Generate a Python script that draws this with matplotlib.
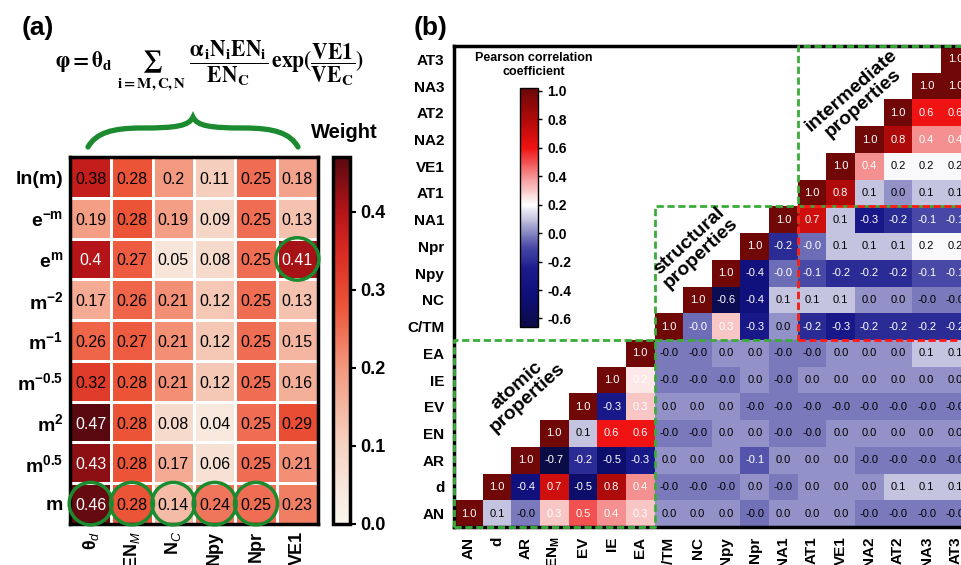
import numpy as np
import matplotlib
matplotlib.use('Agg')
import matplotlib.pyplot as plt
from matplotlib.colors import LinearSegmentedColormap, Normalize
from matplotlib.patches import Ellipse, PathPatch
from matplotlib.path import Path
from matplotlib.cm import ScalarMappable

plt.rcParams.update({
    'font.family': ['Liberation Sans', 'DejaVu Sans'],
    'mathtext.fontset': 'custom',
    'mathtext.rm': 'Liberation Sans',
    'mathtext.bf': 'Liberation Sans:bold',
    'mathtext.it': 'Liberation Sans:italic',
    'mathtext.sf': 'Liberation Sans',
    'mathtext.default': 'bf',
    'axes.unicode_minus': False,
})

# ---------------- data: panel (a) ----------------
W_ROWS = ['ln(m)', r'e$^{-m}$', r'e$^{m}$', r'm$^{-2}$', r'm$^{-1}$',
          r'm$^{-0.5}$', r'm$^{2}$', r'm$^{0.5}$', 'm']
W_COLS = [r'θ$_{\mathit{d}}$', r'EN$_{\mathit{M}}$', r'N$_{\mathit{C}}$', 'Npy', 'Npr', 'VE1']
W_LN = [0.38, 0.28, 0.20, 0.11, 0.25, 0.18]
W_EXP_NEG = [0.19, 0.28, 0.19, 0.09, 0.25, 0.13]
W_EXP = [0.40, 0.27, 0.05, 0.08, 0.25, 0.41]
W_M_NEG2 = [0.17, 0.26, 0.21, 0.12, 0.25, 0.13]
W_M_NEG1 = [0.26, 0.27, 0.21, 0.12, 0.25, 0.15]
W_M_NEG05 = [0.32, 0.28, 0.21, 0.12, 0.25, 0.16]
W_M2 = [0.47, 0.28, 0.08, 0.04, 0.25, 0.29]
W_M05 = [0.43, 0.28, 0.17, 0.06, 0.25, 0.21]
W_M = [0.46, 0.28, 0.14, 0.24, 0.25, 0.23]
W_CIRCLED = [(2, 5), (8, 0), (8, 1), (8, 2), (8, 3), (8, 4)]

# ---------------- data: panel (b) ----------------
P_ROWS = ['AN', 'd', 'AR', 'EN', 'EV', 'IE', 'EA', 'C/TM', 'NC', 'Npy', 'Npr',
          'NA1', 'AT1', 'VE1', 'NA2', 'AT2', 'NA3', 'AT3']
P_COLS = ['AN', 'd', 'AR', r'EN$_{M}$', 'EV', 'IE', 'EA', 'C/TM', 'NC', 'Npy', 'Npr',
          'NA1', 'AT1', 'VE1', 'NA2', 'AT2', 'NA3', 'AT3']
# each row starts at the diagonal
C_AN = [1.0, 0.1, -0.02, 0.3, 0.5, 0.4, 0.3, 0.02, 0.02, 0.02, -0.03, 0.02, 0.02, 0.02, -0.02, -0.02, -0.02, -0.02]
C_D = [1.0, -0.4, 0.7, -0.5, 0.8, 0.4, -0.02, -0.02, -0.02, 0.02, -0.02, 0.02, 0.02, 0.02, 0.1, 0.1, 0.1]
C_AR = [1.0, -0.7, -0.2, -0.5, -0.3, 0.02, 0.02, 0.02, -0.08, 0.02, 0.02, 0.02, -0.02, -0.02, -0.02, -0.02]
C_EN = [1.0, 0.1, 0.6, 0.6, -0.02, -0.02, 0.02, 0.02, -0.02, -0.02, 0.02, 0.02, 0.02, 0.02, 0.02]
C_EV = [1.0, -0.3, 0.3, 0.02, 0.02, 0.02, -0.02, -0.02, -0.02, -0.02, -0.02, -0.02, -0.02, -0.02]
C_IE = [1.0, 0.24, -0.02, -0.02, -0.02, 0.02, -0.02, 0.02, 0.02, 0.02, 0.02, 0.02, 0.02]
C_EA = [1.0, -0.02, -0.02, 0.02, 0.02, -0.02, -0.02, 0.02, 0.02, 0.02, 0.1, 0.1]
C_CTM = [1.0, -0.04, 0.3, -0.3, 0.02, -0.2, -0.3, -0.2, -0.2, -0.2, -0.2]
C_NC = [1.0, -0.6, -0.4, 0.1, 0.1, 0.1, 0.02, 0.02, -0.02, -0.02]
C_NPY = [1.0, -0.4, -0.04, -0.1, -0.2, -0.2, -0.2, -0.1, -0.1]
C_NPR = [1.0, -0.2, -0.04, 0.1, 0.1, 0.1, 0.19, 0.19]
C_NA1 = [1.0, 0.7, 0.1, -0.3, -0.2, -0.1, -0.1]
C_AT1 = [1.0, 0.8, 0.1, 0.02, 0.1, 0.1]
C_VE1 = [1.0, 0.4, 0.19, 0.19, 0.19]
C_NA2 = [1.0, 0.8, 0.4, 0.4]
C_AT2 = [1.0, 0.6, 0.6]
C_NA3 = [1.0, 1.0]
C_AT3 = [1.0]
CB_TICKS = [-0.6, -0.4, -0.2, 0.0, 0.2, 0.4, 0.6, 0.8, 1.0]
W_TICKS = [0.0, 0.1, 0.2, 0.3, 0.4]

W = [W_LN, W_EXP_NEG, W_EXP, W_M_NEG2, W_M_NEG1, W_M_NEG05, W_M2, W_M05, W_M]
CORR = [C_AN, C_D, C_AR, C_EN, C_EV, C_IE, C_EA, C_CTM, C_NC, C_NPY, C_NPR,
        C_NA1, C_AT1, C_VE1, C_NA2, C_AT2, C_NA3, C_AT3]

FW, FH = 962, 565
fig = plt.figure(figsize=(FW / 100, FH / 100), dpi=100)


def px_axes(x0, y0, x1, y1):
    return fig.add_axes([x0 / FW, 1 - y1 / FH, (x1 - x0) / FW, (y1 - y0) / FH])


def fxy(x, y):
    return (x / FW, 1 - y / FH)


# ---------------- panel (a) ----------------
wv = np.array(W)
vmax_a = 0.47
a_nodes = [(0.0, '#faf6ef'), (0.1, '#f5d3c3'), (0.2, '#f3987e'), (0.28, '#ec5438'),
           (0.35, '#d82a22'), (0.40, '#b51418'), (0.47, '#5a0810')]
cmap_a = LinearSegmentedColormap.from_list('wa', [(v / vmax_a, c) for v, c in a_nodes])
norm_a = Normalize(0.0, vmax_a)

ax_a = px_axes(70, 157, 318, 524)
nr, nc = wv.shape
ax_a.pcolormesh(np.arange(nc + 1), np.arange(nr + 1), wv, cmap=cmap_a, norm=norm_a,
                edgecolors='white', linewidth=2)
ax_a.set_xlim(0, nc)
ax_a.set_ylim(nr, 0)
for i in range(nr):
    for j in range(nc):
        v = wv[i, j]
        ax_a.text(j + 0.5, i + 0.55, f'{v:g}', ha='center', va='center', fontsize=11.5,
                  color='white' if v >= 0.39 else 'black')
for (i, j) in W_CIRCLED:
    ax_a.add_patch(Ellipse((j + 0.5, i + 0.5), 1.04, 1.04, fill=False, edgecolor='#1c8a2e',
                           linewidth=2.5, clip_on=False, zorder=5))
ax_a.set_yticks(np.arange(nr) + 0.5, W_ROWS, fontsize=14, fontweight='bold')
ax_a.set_xticks(np.arange(nc) + 0.5, W_COLS, fontsize=13, fontweight='bold', rotation=90)
ax_a.tick_params(length=0, pad=5)
for s in ax_a.spines.values():
    s.set_linewidth(2.5)

cax_a = px_axes(333, 157, 350, 524)
cb_a = fig.colorbar(ScalarMappable(norm=norm_a, cmap=cmap_a), cax=cax_a, ticks=W_TICKS)
cb_a.outline.set_linewidth(2.5)
cax_a.tick_params(labelsize=13, length=4, width=1.5)
cax_a.set_yticklabels([f'{t:.1f}' for t in W_TICKS], fontweight='bold')

# formula
fig.text(*fxy(210, 66),
         r'$\varphi = \theta_d\ \sum_{i=M,C,N}\ \dfrac{\alpha_i N_i EN_i}{EN_C}\,exp(\dfrac{VE1}{VE_C})$',
         ha='center', va='center', fontsize=15.5, math_fontfamily='stix')

# curly brace
verts = [fxy(88, 147), fxy(96, 133), fxy(112, 128), fxy(142, 128),
         fxy(176, 128), fxy(189, 126), fxy(193, 117),
         fxy(197, 126), fxy(210, 128), fxy(244, 128),
         fxy(274, 128), fxy(290, 133), fxy(298, 147)]
codes = [Path.MOVETO] + [Path.CURVE4] * 12
fig.patches.append(PathPatch(Path(verts, codes), transform=fig.transFigure, fill=False,
                             edgecolor='#1c8a2e', linewidth=3.8, capstyle='round'))

fig.text(*fxy(344, 132), 'Weight', ha='center', va='center', fontsize=14.5, fontweight='bold')
fig.text(*fxy(38, 28), '(a)', ha='center', va='center', fontsize=19, fontweight='bold')
fig.text(*fxy(431, 28), '(b)', ha='center', va='center', fontsize=19, fontweight='bold')

# ---------------- panel (b) ----------------
n = len(P_ROWS)
M = np.full((n, n), np.nan)
for i, row in enumerate(CORR):
    for k, v in enumerate(row):
        M[i, i + k] = v

vmin_b, vmax_b = -0.66, 1.02
b_nodes = [(-0.66, '#0b0b45'), (-0.45, '#0e0e78'), (-0.25, '#1c1c8e'), (-0.1, '#4848a6'),
           (0.0, '#8686c2'), (0.1, '#c6c6e2'), (0.2, '#ffffff'), (0.4, '#f49090'),
           (0.6, '#f01212'), (0.8, '#b00a0a'), (1.02, '#6a0808')]
cmap_b = LinearSegmentedColormap.from_list(
    'pc', [((v - vmin_b) / (vmax_b - vmin_b), c) for v, c in b_nodes])
norm_b = Normalize(vmin_b, vmax_b)

cw, ch = 28.65, 26.72
bx0, by1 = 454, 527
ax_b = px_axes(bx0, by1 - n * ch, bx0 + n * cw, by1)
ax_b.pcolormesh(np.arange(n + 1), np.arange(n + 1), np.ma.masked_invalid(M),
                cmap=cmap_b, norm=norm_b)
ax_b.set_xlim(0, n)
ax_b.set_ylim(0, n)
for i in range(n):
    for j in range(i, n):
        v = M[i, j]
        white = v >= 0.22 or v <= -0.035
        ax_b.text(j + 0.5, i + 0.5, f'{v:.1f}', ha='center', va='center', fontsize=8,
                  color='white' if white else 'black')
ax_b.set_yticks(np.arange(n) + 0.5, P_ROWS, fontsize=11, fontweight='bold')
ax_b.set_xticks(np.arange(n) + 0.5, P_COLS, fontsize=11, fontweight='bold', rotation=90)
ax_b.tick_params(length=0, pad=7)
for k in ['left', 'top', 'bottom']:
    ax_b.spines[k].set_linewidth(2.5)
ax_b.spines['right'].set_visible(False)

green = '#3aac3a'
red = '#ff1a1a'
dash = (0, (2.6, 1.3))


def box(x0, y0, x1, y1, color):
    ax_b.plot([x0, x1, x1, x0, x0], [y0, y0, y1, y1, y0], color=color, lw=2,
              linestyle=dash, clip_on=False, zorder=6)


box(0, 0, 7, 7, green)
box(7, 7, 12, 12, green)
box(12, 12, 18, 18, green)
box(12, 7, 18, 12, red)

fig.text(*fxy(857, 97), 'intermediate\nproperties', ha='center', va='center', fontsize=14,
         fontweight='bold', rotation=41, rotation_mode='anchor', multialignment='center',
         linespacing=1.0)
fig.text(*fxy(695, 247), 'structural\nproperties', ha='center', va='center', fontsize=14,
         fontweight='bold', rotation=43, rotation_mode='anchor', multialignment='center',
         linespacing=1.0)
fig.text(*fxy(522, 392), 'atomic\nproperties', ha='center', va='center', fontsize=14,
         fontweight='bold', rotation=42, rotation_mode='anchor', multialignment='center',
         linespacing=1.0)

cax_b = px_axes(520, 88, 538, 327)
cb_b = fig.colorbar(ScalarMappable(norm=norm_b, cmap=cmap_b), cax=cax_b, ticks=CB_TICKS)
cb_b.outline.set_linewidth(1)
cax_b.tick_params(labelsize=10, length=3, width=1)
cax_b.set_yticklabels([f'{t:.1f}' for t in CB_TICKS], fontweight='bold')
fig.text(*fxy(534, 65), 'Pearson correlation\ncoefficient', ha='center', va='center',
         fontsize=9, fontweight='bold', linespacing=1.15)

fig.savefig('out.png', dpi=100, facecolor='white')
